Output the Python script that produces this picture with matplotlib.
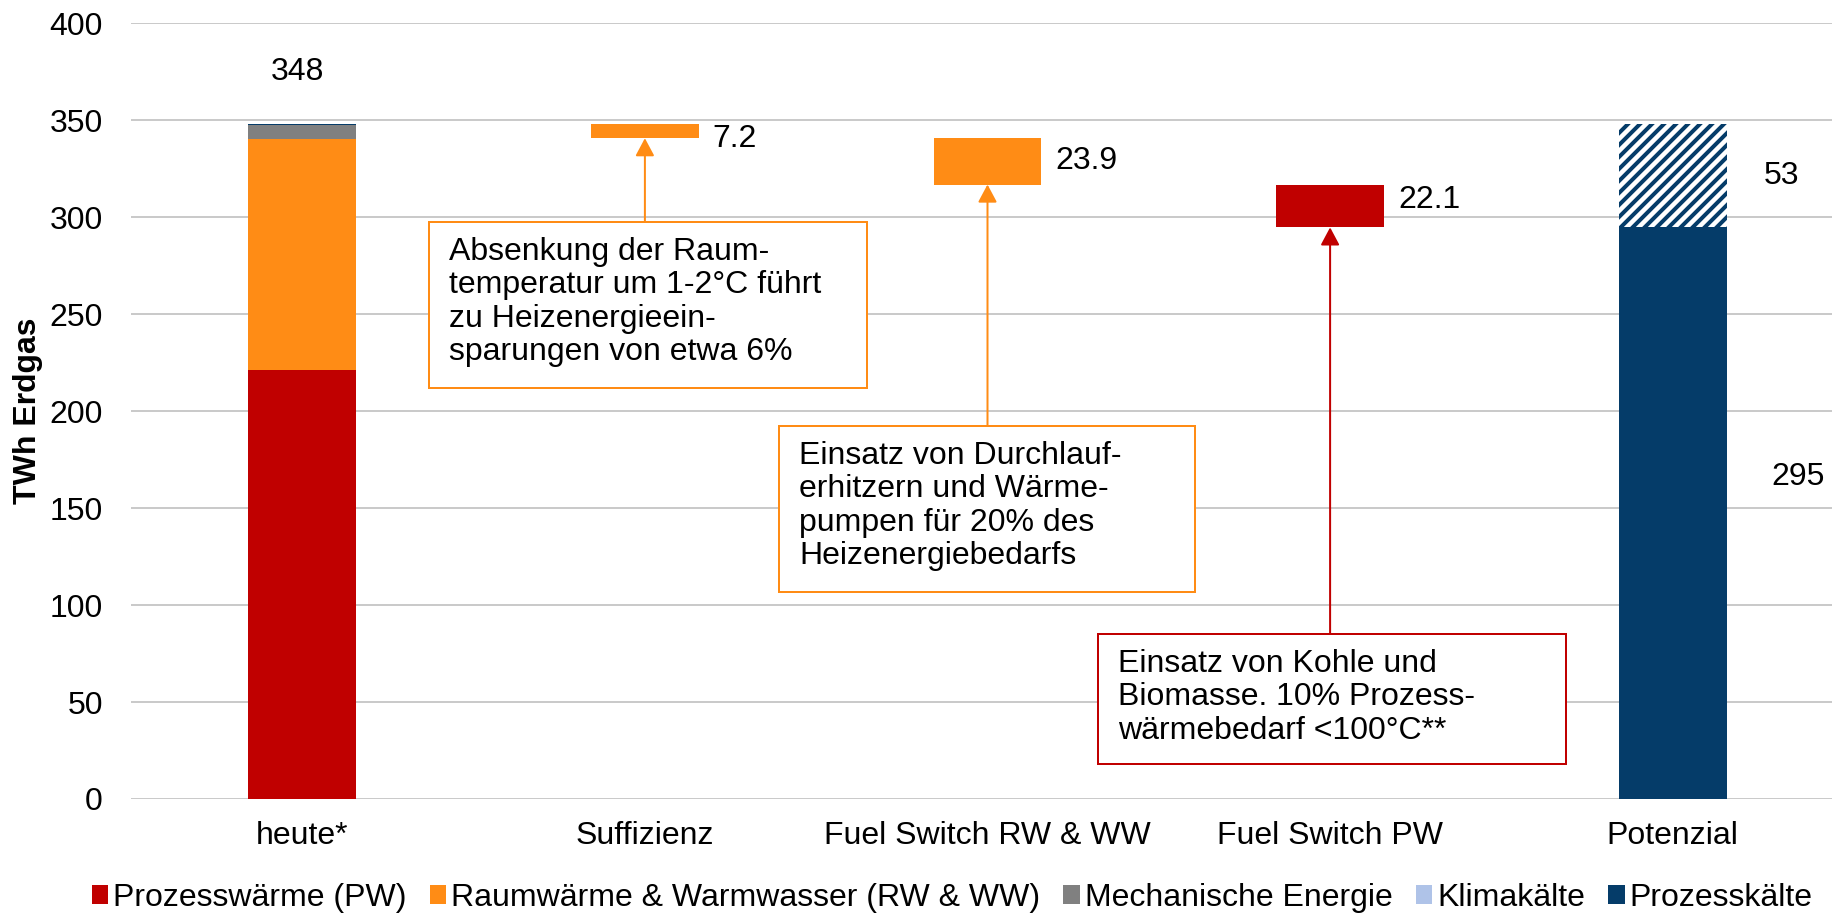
import matplotlib
matplotlib.use("Agg")
import matplotlib.pyplot as plt
from matplotlib.patches import Rectangle, Patch

# ---------------- data ----------------
categories = ["heute*", "Suffizienz", "Fuel Switch RW & WW", "Fuel Switch PW", "Potenzial"]
series_names = ["Prozesswärme (PW)", "Raumwärme & Warmwasser (RW & WW)",
                "Mechanische Energie", "Klimakälte", "Prozesskälte"]
heute_values = [221.0, 119.4, 7.0, 0.4, 0.2]          # TWh, stacked
step_values = [7.2, 23.9, 22.1]                        # savings steps
annotations = [
    "Absenkung der Raum-\ntemperatur um 1-2°C führt\nzu Heizenergieein-\nsparungen von etwa 6%",
    "Einsatz von Durchlauf-\nerhitzern und Wärme-\npumpen für 20% des\nHeizenergiebedarfs",
    "Einsatz von Kohle und\nBiomasse. 10% Prozess-\nwärmebedarf <100°C**",
]
yticks = [0, 50, 100, 150, 200, 250, 300, 350, 400]
ylabel = "TWh Erdgas"

# ---------------- style ----------------
C_RED = "#C00000"
C_ORANGE = "#FF8C15"
C_GRAY = "#808080"
C_LBLUE = "#AFC3E8"
C_DBLUE = "#053C69"
series_colors = [C_RED, C_ORANGE, C_GRAY, C_LBLUE, C_DBLUE]
step_colors = [C_ORANGE, C_ORANGE, C_RED]
FS = 32
FONT = "Liberation Sans"

plt.rcParams["font.family"] = [FONT, "DejaVu Sans"]
plt.rcParams["hatch.linewidth"] = 4.0
plt.rcParams["hatch.color"] = C_DBLUE

DPI = 72
fig = plt.figure(figsize=(1832 / DPI, 913 / DPI), dpi=DPI)
ax = fig.add_axes([131 / 1832, 1 - 799 / 913, (1844 - 131) / 1832, (799 - 23.4) / 913])
ax.set_xlim(-0.5, 4.5)
ax.set_ylim(0, 400)

W = 0.315
x = list(range(len(categories)))

# heute stacked bar
bottom = 0.0
for name, val, col in zip(series_names, heute_values, series_colors):
    ax.bar(x[0], val, W, bottom=bottom, color=col, label=name, zorder=2, linewidth=0)
    bottom += val
total = bottom
ax.text(x[0] - 0.015, 375.1, f"{total:.0f}", ha="center", va="center", fontsize=FS)

# waterfall steps
level = total
step_bottoms = []
lab_dy = [-8, 0, 6]
for i, (v, col) in enumerate(zip(step_values, step_colors)):
    xi = x[i + 1]
    ax.bar(xi, v, W, bottom=level - v, color=col, zorder=2, linewidth=0)
    step_bottoms.append(level - v)
    ax.annotate(f"{v:.1f}", xy=(xi + W / 2, level - v / 2), xytext=(14, lab_dy[i]),
                textcoords="offset points", ha="left", va="center", fontsize=FS)
    level -= v

# Potenzial
remaining = level
saved = total - remaining
ax.bar(x[4], remaining, W, color=C_DBLUE, zorder=2, linewidth=0)
ax.bar(x[4], saved, W, bottom=remaining, facecolor="white", edgecolor=C_DBLUE,
       hatch="//", linewidth=0, zorder=2)
ax.annotate(f"{saved:.0f}", xy=(x[4] + W / 2, remaining + saved / 2), xytext=(37, 0),
            textcoords="offset points", ha="left", va="center", fontsize=FS)
ax.annotate(f"{remaining:.0f}", xy=(x[4] + W / 2, remaining / 2), xytext=(45, 36),
            textcoords="offset points", ha="left", va="center", fontsize=FS)

# annotation boxes (left, right, top, bottom in data coords)
boxes = [(0.3685, 1.648, 297.6, 212.0), (1.392, 2.607, 192.5, 106.9), (2.322, 3.689, 85.1, 18.05)]
for i, (txt, (l, r, t, b)) in enumerate(zip(annotations, boxes)):
    col = step_colors[i]
    ax.add_patch(Rectangle((l, b), r - l, t - b, facecolor="white", edgecolor=col,
                           linewidth=2, zorder=3))
    ax.annotate(txt, xy=(l, t), xytext=(20, -15), textcoords="offset points",
                ha="left", va="top", fontsize=FS, linespacing=1.15, zorder=4)
    ax.annotate("", xy=(x[i + 1], step_bottoms[i]), xytext=(x[i + 1], t),
                arrowprops=dict(arrowstyle="-|>,head_length=0.75,head_width=0.4",
                                color=col, lw=2, mutation_scale=20,
                                shrinkA=0, shrinkB=0), zorder=3)

# axes styling
ax.set_yticks(yticks)
ax.set_xticks(x)
ax.set_xticklabels(categories)
ax.tick_params(axis="both", length=0, labelsize=FS)
ax.tick_params(axis="x", pad=22)
ax.tick_params(axis="y", pad=28)
ax.grid(axis="y", color="#BEBEBE", linewidth=1.6, zorder=0)
ax.set_axisbelow(True)
for s in ax.spines.values():
    s.set_visible(False)

fig.text(28 / 1832, 1 - 411 / 913, ylabel, rotation=90, ha="center", va="center",
         fontsize=FS, fontweight="bold")

handles = [Patch(facecolor=c, edgecolor="none") for c in series_colors]
fig.legend(handles, series_names, loc="center", bbox_to_anchor=(952 / 1832, 1 - 898 / 913),
           ncol=5, frameon=False, fontsize=FS, handlelength=0.52, handleheight=0.52,
           handletextpad=0.15, columnspacing=0.72, borderpad=0, borderaxespad=0)

fig.savefig("out.png", dpi=DPI)
